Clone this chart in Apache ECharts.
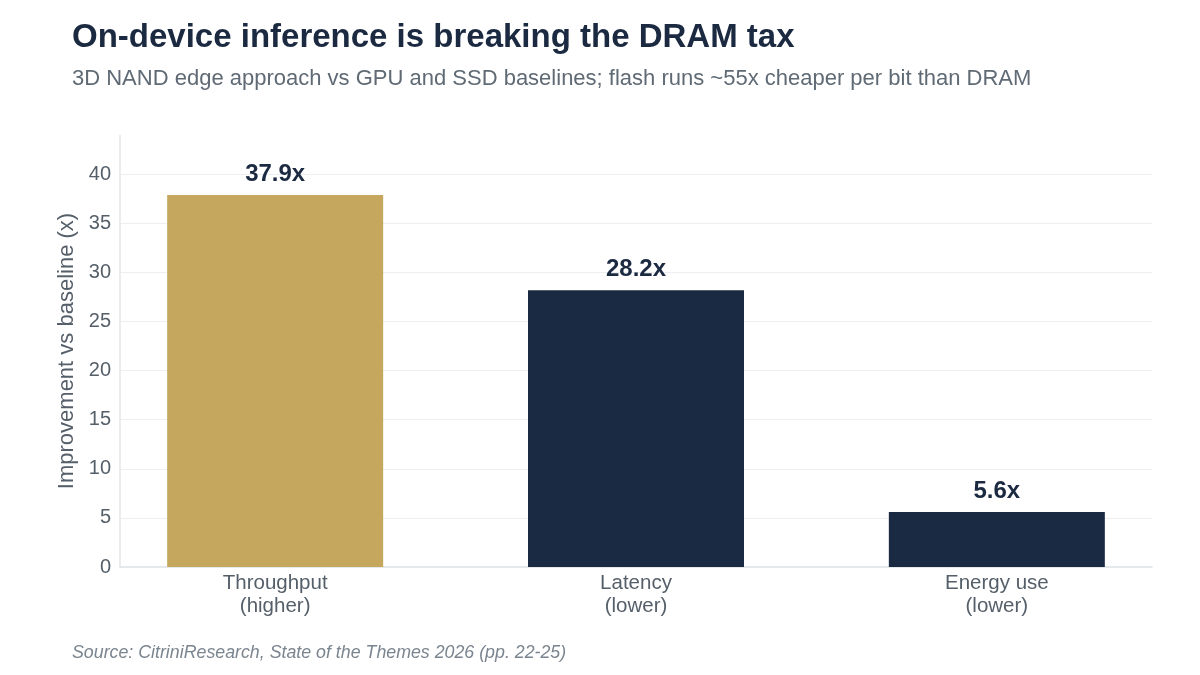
<!DOCTYPE html>
<html>
<head>
<meta charset="utf-8">
<script src="https://cdn.jsdelivr.net/npm/echarts@6/dist/echarts.min.js"></script>
<style>
  html, body { margin: 0; padding: 0; background: #ffffff; }
  #chart { width: 1200px; height: 675px; }
</style>
</head>
<body>
<div id="chart"></div>
<script>
// data
var categories = ['Throughput\n(higher)', 'Latency\n(lower)', 'Energy use\n(lower)'];
var improvement = [37.9, 28.2, 5.6];
var barColors = ['#c5a85d', '#1b2a43', '#1b2a43'];
var yTicks = [0, 5, 10, 15, 20, 25, 30, 35, 40];

var font = '"Liberation Sans", Arial, Helvetica, sans-serif';
var myChart = echarts.init(document.getElementById('chart'));

var seriesData = improvement.map(function (v, i) {
  return { value: [i, v], itemStyle: { color: barColors[i] } };
});

myChart.setOption({
  backgroundColor: '#ffffff',
  textStyle: { fontFamily: font },
  title: [
    {
      text: 'On-device inference is breaking the DRAM tax',
      left: 67, top: 16,
      textStyle: { fontSize: 33, fontWeight: 'bold', color: '#1b2a41', fontFamily: font }
    },
    {
      text: '3D NAND edge approach vs GPU and SSD baselines; flash runs ~55x cheaper per bit than DRAM',
      left: 67, top: 63,
      textStyle: { fontSize: 22, fontWeight: 'normal', color: '#5f6a74', fontFamily: font }
    },
    {
      text: 'Source: CitriniResearch, State of the Themes 2026 (pp. 22-25)',
      left: 67, top: 639,
      textStyle: { fontSize: 17.8, fontWeight: 'normal', fontStyle: 'italic', color: '#7b858f', fontFamily: font }
    }
  ],
  grid: { left: 120, right: 48, top: 135, bottom: 108, containLabel: false },
  xAxis: {
    type: 'value',
    min: -0.43,
    max: 2.43,
    axisLine: { show: true, onZero: false, lineStyle: { color: '#dde2e6', width: 1.5 } },
    axisTick: { show: false },
    splitLine: { show: false },
    axisLabel: {
      customValues: [0, 1, 2],
      formatter: function (v) { return categories[Math.round(v)]; },
      fontSize: 20.5, color: '#555f69', lineHeight: 23, margin: 5,
      fontFamily: font
    }
  },
  yAxis: {
    type: 'value',
    min: 0,
    max: 44,
    interval: 5,
    name: 'Improvement vs baseline (x)',
    nameLocation: 'middle',
    nameGap: 41,
    nameTextStyle: { fontSize: 22, color: '#555f69', fontFamily: font },
    axisLine: { show: true, onZero: false, lineStyle: { color: '#e3e7ea', width: 1.5 } },
    axisTick: { show: false },
    axisLabel: {
      fontSize: 20, color: '#555f69', margin: 9, showMaxLabel: false,
      fontFamily: font,
      formatter: function (v) { return yTicks.indexOf(v) >= 0 ? String(v) : ''; }
    },
    splitLine: { show: true, showMaxLine: false, showMinLine: false, lineStyle: { color: '#eceef0', width: 1 } }
  },
  series: [{
    type: 'bar',
    data: seriesData,
    barWidth: 216,
    label: {
      show: true,
      position: 'top',
      distance: 9,
      formatter: function (p) { return p.value[1].toFixed(1) + 'x'; },
      fontSize: 24, fontWeight: 'bold', color: '#1b2a41', fontFamily: font
    }
  }],
  animation: false
});
</script>
</body>
</html>
